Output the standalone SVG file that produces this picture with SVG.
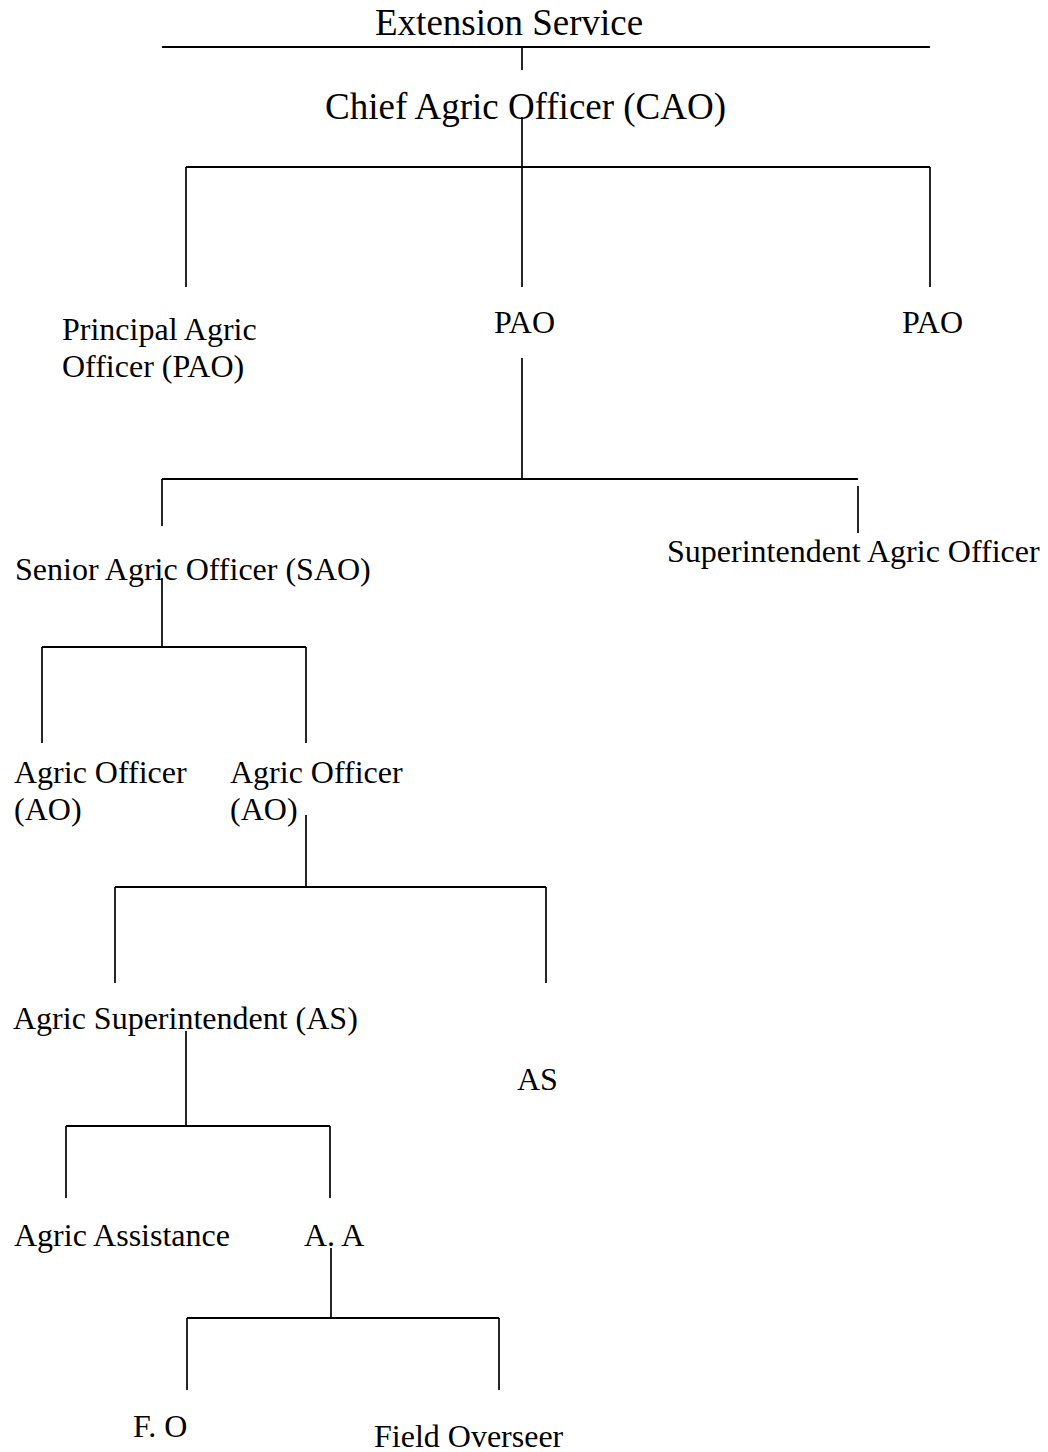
<svg xmlns="http://www.w3.org/2000/svg" width="1048" height="1452" viewBox="0 0 1048 1452">
  <style>
    text { font-family: "Liberation Serif", "Times New Roman", serif; fill: #000; }
    .lbl { font-size: 32px; }
    .head { font-size: 37px; }
    .h { stroke: #000; stroke-width: 2.2; fill: none; }
    .v { stroke: #000; stroke-width: 1.7; fill: none; }
  </style>
  <rect width="1048" height="1452" fill="#fff"/>

  <!-- hierarchy connectors -->
  <g id="connectors">
    <line class="h" x1="162" y1="47" x2="930" y2="47"/>
    <line class="v" x1="522" y1="48" x2="522" y2="70"/>
    <line class="v" x1="522" y1="117" x2="522" y2="167"/>
    <line class="h" x1="186" y1="167" x2="930" y2="167"/>
    <line class="v" x1="186" y1="167" x2="186" y2="287"/>
    <line class="v" x1="522" y1="167" x2="522" y2="287"/>
    <line class="v" x1="930" y1="167" x2="930" y2="287"/>
    <line class="v" x1="522" y1="358" x2="522" y2="479"/>
    <line class="h" x1="162" y1="479" x2="858" y2="479"/>
    <line class="v" x1="162" y1="479" x2="162" y2="526"/>
    <line class="v" x1="858" y1="486" x2="858" y2="533"/>
    <line class="v" x1="162" y1="578" x2="162" y2="647"/>
    <line class="h" x1="42" y1="647" x2="306" y2="647"/>
    <line class="v" x1="42" y1="647" x2="42" y2="743"/>
    <line class="v" x1="306" y1="647" x2="306" y2="743"/>
    <line class="v" x1="306" y1="815" x2="306" y2="887"/>
    <line class="h" x1="115" y1="887" x2="546" y2="887"/>
    <line class="v" x1="115" y1="887" x2="115" y2="983"/>
    <line class="v" x1="546" y1="887" x2="546" y2="983"/>
    <line class="v" x1="186" y1="1031" x2="186" y2="1126"/>
    <line class="h" x1="66" y1="1126" x2="330" y2="1126"/>
    <line class="v" x1="66" y1="1126" x2="66" y2="1198"/>
    <line class="v" x1="330" y1="1126" x2="330" y2="1198"/>
    <line class="v" x1="331" y1="1248" x2="331" y2="1318"/>
    <line class="h" x1="187" y1="1318" x2="499" y2="1318"/>
    <line class="v" x1="187" y1="1318" x2="187" y2="1390"/>
    <line class="v" x1="499" y1="1318" x2="499" y2="1390"/>
  </g>

  <g id="extension-service"><text class="head" x="375" y="35">Extension Service</text></g>
  <g id="cao"><text class="head" x="325" y="119">Chief Agric Officer (CAO)</text></g>

  <g id="pao-1">
    <text class="lbl" x="62" y="340">Principal Agric</text>
    <text class="lbl" x="62" y="377">Officer (PAO)</text>
  </g>
  <g id="pao-2"><text class="lbl" x="494" y="333">PAO</text></g>
  <g id="pao-3"><text class="lbl" x="902" y="333">PAO</text></g>

  <g id="sao"><text class="lbl" x="15" y="580">Senior Agric Officer (SAO)</text></g>
  <g id="supt-ao"><text class="lbl" x="667" y="562">Superintendent Agric Officer</text></g>

  <g id="ao-1">
    <text class="lbl" x="14" y="783">Agric Officer</text>
    <text class="lbl" x="14" y="820">(AO)</text>
  </g>
  <g id="ao-2">
    <text class="lbl" x="230" y="783">Agric Officer</text>
    <text class="lbl" x="230" y="820">(AO)</text>
  </g>

  <g id="as-1"><text class="lbl" x="13" y="1029">Agric Superintendent (AS)</text></g>
  <g id="as-2"><text class="lbl" x="517" y="1090">AS</text></g>

  <g id="aa-1"><text class="lbl" x="14" y="1246">Agric Assistance</text></g>
  <g id="aa-2"><text class="lbl" x="304" y="1246">A. A</text></g>

  <g id="fo"><text class="lbl" x="133" y="1437">F. O</text></g>
  <g id="field-overseer"><text class="lbl" x="374" y="1447">Field Overseer</text></g>
</svg>
